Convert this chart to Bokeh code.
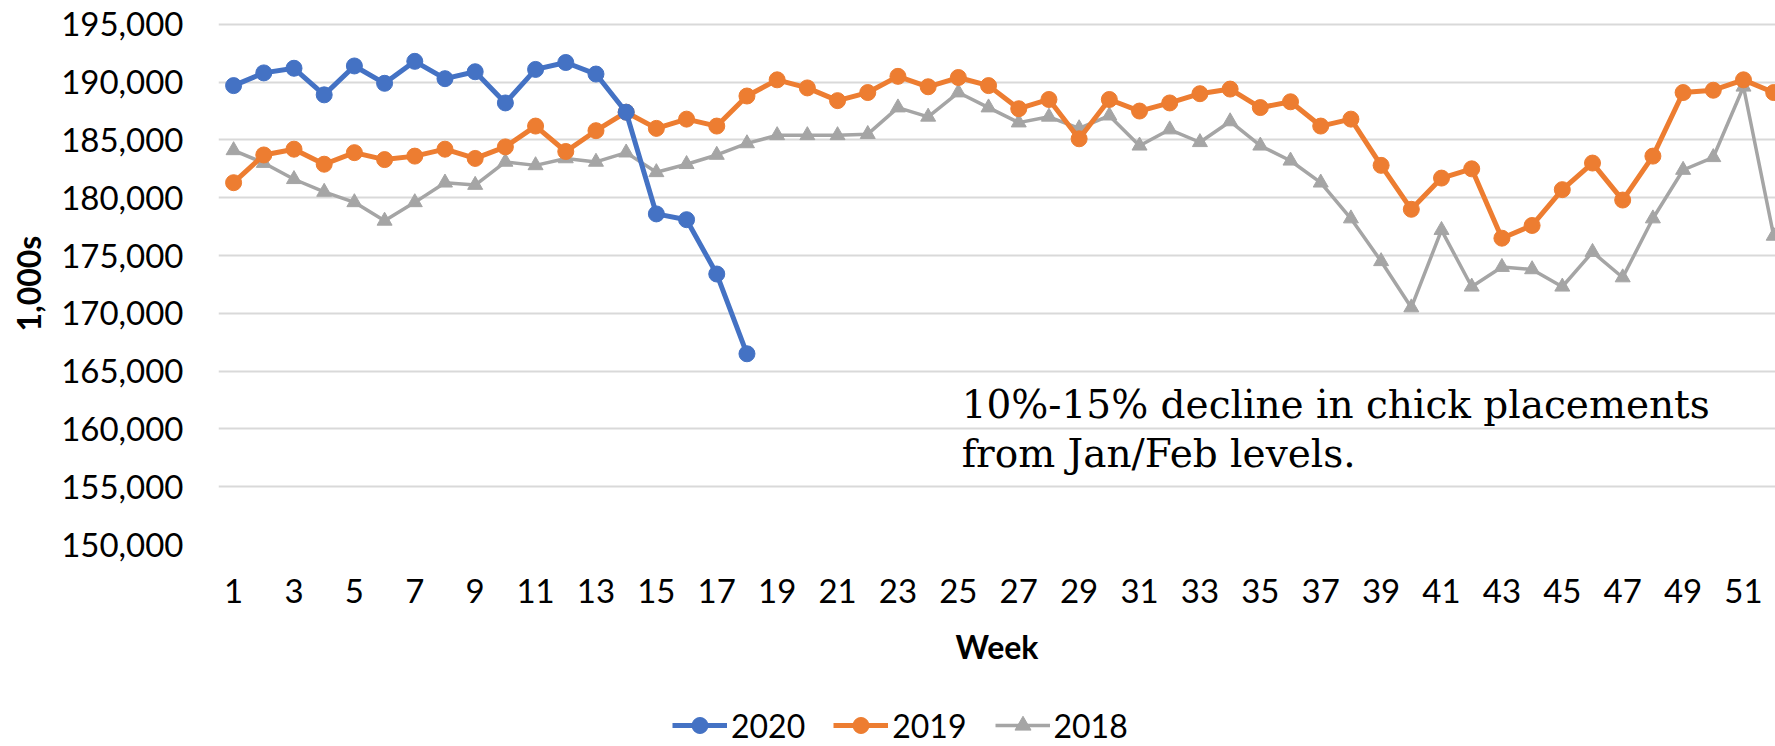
from bokeh.plotting import figure
from bokeh.layouts import column
from bokeh.models import Range1d, FixedTicker, NumeralTickFormatter, Legend, LegendItem, Label
from bokeh.embed import file_html
from bokeh.resources import INLINE

weeks = list(range(1, 53))
weeks_2020 = list(range(1, 19))
y2020 = [189700, 190800, 191200, 188900, 191400, 189900, 191800, 190300, 190900, 188200,
         191100, 191700, 190700, 187400, 178600, 178100, 173400, 166500]
y2019 = [181300, 183700, 184200, 182900, 183900, 183300, 183600, 184200, 183400, 184400,
         186200, 184000, 185800, 187400, 186000, 186800, 186200, 188800, 190200, 189500,
         188400, 189100, 190500, 189600, 190400, 189700, 187700, 188500, 185100, 188500,
         187500, 188200, 189000, 189400, 187800, 188300, 186200, 186800, 182800, 179000,
         181700, 182500, 176500, 177600, 180700, 183000, 179800, 183600, 189100, 189300,
         190200, 189100]
y2018 = [184100, 183000, 181600, 180500, 179600, 178000, 179600, 181300, 181100, 183100,
         182800, 183400, 183100, 183900, 182200, 182900, 183700, 184700, 185400, 185400,
         185400, 185500, 187800, 187000, 189100, 187800, 186500, 187000, 186000, 187100,
         184500, 185900, 184800, 186600, 184500, 183200, 181300, 178200, 174500, 170500,
         177200, 172300, 174000, 173800, 172300, 175300, 173100, 178200, 182400, 183500,
         189600, 176700]
x_ticks = list(range(1, 52, 2))
y_ticks = list(range(150000, 195001, 5000))
series_names = ["2020", "2019", "2018"]
note_lines = ["10%-15% decline in chick placements", "from Jan/Feb levels."]

C2020, C2019, C2018 = "#4472C4", "#ED7D31", "#A5A5A5"

p = figure(width=1775, height=690, output_backend="svg", toolbar_location=None,
           x_range=Range1d(0.5, 52.06), y_range=Range1d(150000, 195160),
           min_border_left=218, min_border_right=0, min_border_top=22, min_border_bottom=146)
p.outline_line_color = None
p.background_fill_color = "white"

p.xgrid.visible = False
p.ygrid.grid_line_color = "#d9d9d9"
p.ygrid.grid_line_width = 2
p.ygrid.ticker = FixedTicker(ticks=y_ticks)

p.yaxis.ticker = FixedTicker(ticks=y_ticks)
p.yaxis.formatter = NumeralTickFormatter(format="0,0")
p.xaxis.ticker = FixedTicker(ticks=x_ticks)
for ax in (p.xaxis[0], p.yaxis[0]):
    ax.axis_line_color = None
    ax.major_tick_line_color = None
    ax.minor_tick_line_color = None
    ax.major_tick_out = 0
    ax.major_tick_in = 0
    ax.major_label_text_font = "Lato"
    ax.major_label_text_font_size = "33px"
    ax.major_label_text_color = "black"
    ax.axis_label_text_font = "Lato"
    ax.axis_label_text_font_size = "32px"
    ax.axis_label_text_font_style = "bold"
    ax.axis_label_text_color = "black"

p.yaxis.axis_label = "1,000s"
p.yaxis.major_label_standoff = 35
p.yaxis.axis_label_standoff = 10
p.xaxis.axis_label = "Week"
p.xaxis.major_label_standoff = 34
p.xaxis.axis_label_standoff = 21

styles = [(C2020, "circle", 5, 16), (C2019, "circle", 5, 16), (C2018, "triangle", 3.5, 15)]

for (col, mk, lw, sz), xs, ys in reversed(list(zip(styles, [weeks_2020, weeks, weeks],
                                                  [y2020, y2019, y2018]))):
    p.line(xs, ys, line_color=col, line_width=lw)
    p.scatter(xs, ys, marker=mk, size=sz, fill_color=col, line_color=col)

for txt, yv in zip(note_lines, [162100, 157840]):
    p.add_layout(Label(x=25.11, y=yv, text=txt, text_font="DejaVu Serif",
                       text_font_size="39px", text_baseline="alphabetic", text_color="black"))

# legend strip below the chart (its sample renderers sit outside the strip's view)
q = figure(width=1775, height=56, output_backend="svg", toolbar_location=None,
           x_range=Range1d(0, 1), y_range=Range1d(0, 1), min_border=0,
           x_axis_location=None, y_axis_location=None)
q.outline_line_color = None
q.grid.visible = False
items = []
for name, (col, mk, lw, sz), xs, ys in zip(series_names, styles,
                                           [weeks_2020, weeks, weeks], [y2020, y2019, y2018]):
    r1 = q.line(xs, ys, line_color=col, line_width=lw)
    r2 = q.scatter(xs, ys, marker=mk, size=sz, fill_color=col, line_color=col)
    items.append(LegendItem(label=name, renderers=[r1, r2]))
legend = Legend(items=items, location=(454, 1), orientation="horizontal",
                glyph_width=55, glyph_height=40, label_standoff=4, spacing=28,
                label_text_font="Lato", label_text_font_size="32px", label_text_color="black",
                padding=0, margin=0, border_line_alpha=0, background_fill_alpha=0)
q.add_layout(legend)

open("out.html", "w").write(file_html(column(p, q, spacing=0), INLINE))
